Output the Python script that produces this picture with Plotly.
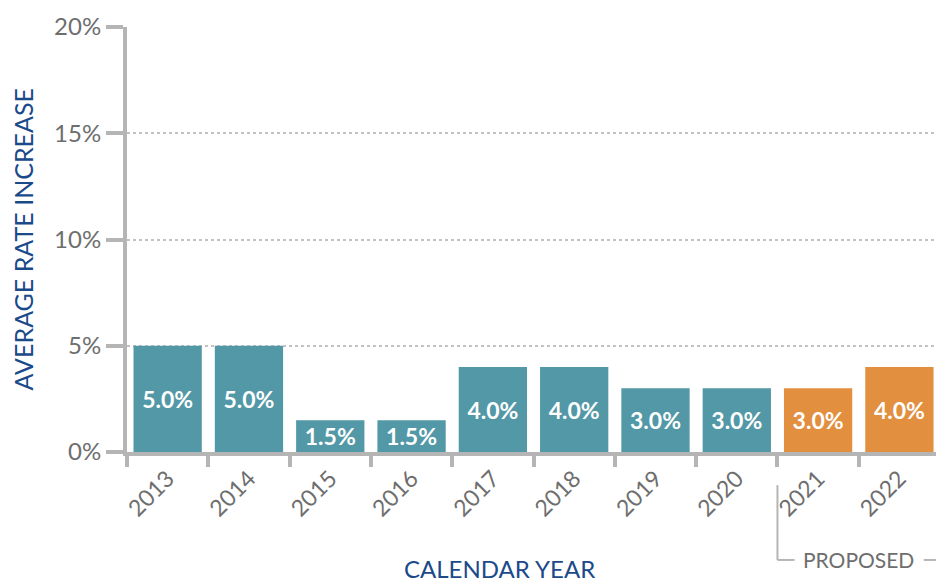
import plotly.graph_objects as go

years = ["2013", "2014", "2015", "2016", "2017", "2018", "2019", "2020", "2021", "2022"]
rates = [5.0, 5.0, 1.5, 1.5, 4.0, 4.0, 3.0, 3.0, 3.0, 4.0]
proposed = [False, False, False, False, False, False, False, False, True, True]
y_ticks = [0, 5, 10, 15, 20]
y_tick_labels = ["0%", "5%", "10%", "15%", "20%"]

TEAL = "#5298a6"
ORANGE = "#e29040"
AXIS = "#b5b5b5"
GRAYTXT = "#6e6e6e"
BLUE = "#1b4a8a"
FONT = "Lato"

colors = [ORANGE if p else TEAL for p in proposed]

fig = go.Figure()
fig.add_trace(go.Bar(
    x=years, y=rates,
    marker=dict(color=colors, line=dict(width=0)),
    text=[f"{v:.1f}%" for v in rates],
    textposition="inside",
    insidetextanchor="middle",
    textangle=0,
    insidetextfont=dict(family=FONT, size=23, color="white", weight="bold"),
    hoverinfo="skip",
))

fig.update_layout(
    width=936, height=582,
    margin=dict(l=127, r=0, t=27, b=130),
    paper_bgcolor="white", plot_bgcolor="white",
    bargap=0.16,
    showlegend=False,
    uniformtext=dict(minsize=23, mode="show"),
    font=dict(family=FONT, color=GRAYTXT),
)

fig.update_xaxes(
    type="category",
    range=[-0.5, 9.45],
    showline=True, linewidth=4, linecolor=AXIS,
    ticks="outside", tickson="boundaries", ticklen=11, tickwidth=4, tickcolor=AXIS,
    tickangle=-45,
    tickfont=dict(family=FONT, size=23, color=GRAYTXT),
    showgrid=False, zeroline=False,
)
fig.update_yaxes(
    range=[0, 20],
    tickvals=y_ticks, ticktext=y_tick_labels,
    showline=True, linewidth=4, linecolor=AXIS,
    ticks="outside", ticklen=17, tickwidth=4, tickcolor=AXIS,
    tickfont=dict(family=FONT, size=24, color=GRAYTXT),
    showgrid=True, gridcolor="#c2c2c2", gridwidth=1.5, griddash="dot",
    zeroline=False,
)

fig.add_annotation(
    text="AVERAGE RATE INCREASE", xref="paper", yref="paper",
    x=-0.1286, y=0.5, xanchor="center", yanchor="middle",
    textangle=-90, showarrow=False,
    font=dict(family=FONT, size=25, color=BLUE),
)
fig.add_annotation(
    text="CALENDAR YEAR", xref="paper", yref="paper",
    x=0.461, y=-0.274, xanchor="center", yanchor="middle", showarrow=False,
    font=dict(family=FONT, size=24, color=BLUE),
)
fig.add_annotation(
    text="PROPOSED", xref="x", yref="paper",
    x=8.5, y=-0.254, xanchor="center", yanchor="middle", showarrow=False,
    font=dict(family=FONT, size=21, color=GRAYTXT),
)
line_style = dict(color=AXIS, width=2)
fig.add_shape(type="line", xref="x", yref="paper", x0=7.5, x1=7.5, y0=-0.078, y1=-0.254, line=line_style)
fig.add_shape(type="line", xref="x", yref="paper", x0=7.5, x1=7.71, y0=-0.254, y1=-0.254, line=line_style)
fig.add_shape(type="line", xref="x", yref="paper", x0=9.3, x1=9.45, y0=-0.254, y1=-0.254, line=line_style)

fig.write_html(
    "out.html",
    config={"displayModeBar": False},
    post_script="document.body.style.margin='0';document.body.style.overflow='hidden';",
)
